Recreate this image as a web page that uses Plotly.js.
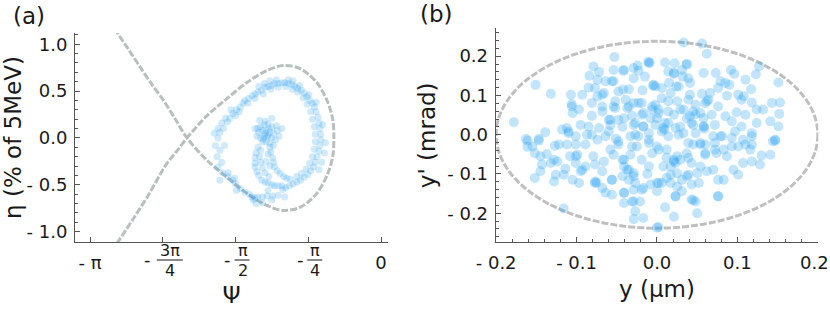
<!DOCTYPE html>
<html><head><meta charset="utf-8">
<script src="https://cdn.plot.ly/plotly-3.0.1.min.js"></script>
<style>html,body{margin:0;padding:0;background:#fff}#c{width:830px;height:309px}</style>
</head><body><div id="c"></div>
<script>
// ---- panel (a): separatrix
var sepPsi = [-2.88,-2.73,-2.60,-2.48,-2.35,-2.22,-2.095,-1.879,-1.664,-1.448,-1.232,-1.059,-0.876,-0.693,-0.574,-0.52,-0.509,-0.52,-0.574,-0.693,-0.876,-1.059,-1.232,-1.448,-1.664,-1.879,-2.095,-2.20,-2.311,-2.526,-2.68,-2.88];
var sepEta = [1.17,0.95,0.756,0.58,0.403,0.20,0.0,-0.238,-0.42,-0.591,-0.72,-0.773,-0.741,-0.591,-0.378,-0.19,0.0,0.19,0.378,0.591,0.741,0.773,0.72,0.591,0.42,0.238,0.0,-0.135,-0.27,-0.634,-0.87,-1.17];

// ---- panel (a): particles
var psiA = [-1.76,-1.76,-1.74,-1.72,-1.68,-1.63,-1.60,-1.56,-1.52,-1.49,-1.47,-1.43,-1.39,-1.36,-1.33,-1.29,-1.25,-1.22,-1.18,-1.15,-1.11,-1.07,-1.04,-1.00,-0.96,-0.93,-0.90,-0.86,-0.83,-0.80,-0.77,-0.74,-0.72,-0.70,-0.68,-0.67,-0.66,-0.65,-0.65,-0.66,-0.67,-0.69,-0.71,-0.73,-0.76,-0.79,-0.83,-0.87,-0.91,-0.95,
-1.70,-1.66,-1.57,-1.53,-1.44,-1.36,-1.27,-1.19,-1.11,-1.03,-0.96,-0.90,-0.84,-0.80,-0.76,-0.74,-0.72,-0.71,-0.71,-0.72,-0.74,-0.77,-0.81,-0.86,-0.91,
-1.32,-1.26,-1.13,-0.95,-0.88,-0.78,-0.70,-0.63,-0.60,-0.61,-0.64,-0.67,-1.20,-1.00,-1.62,-1.80,-1.79,
-0.99,-1.03,-1.06,-1.04,-1.11,-1.17,-1.23,-1.28,-1.33,-1.38,-1.42,-1.47,-1.52,-1.57,-1.60,-1.65,-1.71,-1.76,-1.77,-1.74,-1.56,-1.35,-1.18,-1.72,-1.65,-1.58,-1.39,-1.74,-1.69,-1.22,-1.36,-1.28,
-1.30,-1.26,-1.22,-1.18,-1.32,-1.28,-1.24,-1.20,-1.16,-1.12,-1.10,-1.30,-1.26,-1.22,-1.18,-1.14,-1.28,-1.24,-1.20,-1.16,-1.34,-1.25,-1.23,-1.21,-1.27,-1.13,-1.33,
-1.33,-1.35,-1.36,-1.36,-1.36,-1.34,-1.32,-1.29,-1.25,-1.22,-1.18,-1.15,-1.11,-1.07,
-1.30,-1.31,-1.30,-1.28,-1.25,-1.21,
-1.20,-1.19,-1.17,-1.16,-1.15,-1.12,-1.09,-1.05,-1.02,-0.98,
-1.22,-1.24,-1.20,-1.31,-1.18,-1.07,-1.25,-1.36];
var etaA = [0.00,0.10,0.06,0.16,0.21,0.21,0.26,0.30,0.33,0.37,0.40,0.42,0.45,0.47,0.49,0.51,0.54,0.55,0.56,0.58,0.58,0.59,0.59,0.58,0.57,0.55,0.53,0.51,0.48,0.44,0.40,0.37,0.33,0.28,0.22,0.16,0.10,0.04,-0.02,-0.08,-0.14,-0.20,-0.26,-0.31,-0.35,-0.39,-0.42,-0.45,-0.47,-0.49,
0.10,0.17,0.24,0.28,0.37,0.42,0.47,0.52,0.54,0.55,0.52,0.49,0.43,0.36,0.28,0.20,0.12,0.04,-0.04,-0.12,-0.20,-0.27,-0.33,-0.38,-0.41,
0.55,0.58,0.62,0.61,0.56,0.46,0.38,0.14,-0.05,-0.16,-0.26,-0.34,0.61,0.62,0.30,0.05,-0.08,
-0.51,-0.53,-0.55,-0.63,-0.61,-0.62,-0.62,-0.63,-0.63,-0.66,-0.60,-0.58,-0.54,-0.49,-0.45,-0.41,-0.37,-0.31,-0.20,-0.45,-0.56,-0.70,-0.66,-0.26,-0.37,-0.43,-0.63,-0.13,-0.08,-0.56,-0.64,-0.69,
0.12,0.14,0.15,0.12,0.06,0.08,0.08,0.06,0.05,0.08,0.02,0.00,0.02,0.03,0.00,-0.02,-0.04,-0.04,-0.06,-0.08,0.02,0.05,0.01,0.10,-0.01,0.13,0.10,
-0.10,-0.16,-0.21,-0.27,-0.31,-0.36,-0.40,-0.45,-0.47,-0.48,-0.50,-0.51,-0.51,-0.51,
-0.13,-0.20,-0.26,-0.32,-0.37,-0.41,
-0.10,-0.15,-0.21,-0.26,-0.31,-0.35,-0.38,-0.41,-0.43,-0.44,
-0.17,-0.25,-0.30,0.19,0.21,0.10,0.18,0.10];

// ---- panel (b): particles
var yB = [-0.053,-0.151,-0.132,-0.178,-0.009,-0.024,-0.042,-0.023,-0.084,-0.072,-0.029,-0.015,-0.064,-0.056,-0.085,-0.077,-0.048,-0.035,-0.018,-0.005,-0.107,-0.093,-0.068,-0.039,-0.029,-0.019,-0.106,-0.106,-0.081,-0.068,-0.054,-0.052,-0.037,-0.035,-0.006,0.002,-0.105,-0.081,-0.068,-0.060,-0.048,-0.031,-0.019,-0.008,-0.095,-0.085,-0.072,-0.058,-0.043,-0.027,-0.017,-0.002,-0.139,-0.118,-0.110,-0.163,-0.147,-0.101,-0.081,-0.064,-0.027,-0.010,-0.112,-0.097,-0.054,-0.029,-0.011,-0.074,-0.042,
0.033,0.056,0.062,0.010,0.022,0.037,0.014,0.021,0.031,0.039,0.032,0.073,0.092,0.096,0.110,0.123,0.127,0.151,-0.002,0.006,0.015,0.024,0.041,0.079,0.085,0.090,0.076,0.117,0.056,0.066,0.087,0.101,0.105,0.062,0.060,0.076,0.118,0.143,0.153,-0.002,0.006,0.014,0.025,0.039,0.048,0.002,0.014,0.029,0.037,0.045,0.058,0.068,0.085,0.099,0.110,0.132,0.152,0.124,0.141,0.010,0.023,0.043,0.058,0.059,0.072,0.093,0.105,0.006,0.009,0.033,0.079,0.097,0.118,0.147,0.151,0.124,0.108,0.048,
-0.161,-0.147,-0.161,-0.152,-0.137,-0.127,-0.122,-0.112,-0.101,-0.110,-0.087,-0.099,-0.101,-0.108,-0.143,-0.132,-0.124,-0.145,-0.152,-0.126,-0.114,-0.095,-0.093,-0.128,-0.116,-0.105,-0.097,-0.101,-0.089,-0.079,-0.077,-0.066,-0.068,-0.056,-0.077,-0.075,-0.068,-0.056,-0.064,-0.116,-0.054,-0.043,-0.033,-0.041,-0.035,-0.029,-0.043,-0.035,-0.027,-0.019,-0.029,-0.041,-0.008,0.002,-0.041,-0.031,-0.021,-0.027,-0.029,-0.017,0.000,-0.023,-0.010,-0.006,-0.031,-0.019,-0.010,-0.048,-0.089,-0.155,-0.145,-0.128,-0.051,-0.012,
0.014,0.027,0.048,0.070,0.081,0.093,0.107,0.118,0.118,0.110,0.093,0.101,0.147,0.039,0.054,0.060,0.072,0.074,0.002,0.012,0.021,0.023,0.025,0.039,0.043,0.060,0.087,0.107,0.118,0.130,0.141,0.128,0.095,0.101,0.008,0.017,0.025,0.039,0.050,0.062,0.006,0.017,0.031,0.043,0.052,0.076,0.083,0.000,0.023,0.031,0.043,0.045,0.048,0.076,0.010,0.021,0.050,0.002,0.116,0.144,
-0.004,0.017,0.027,0.041,0.064,-0.074,-0.066,-0.052,-0.023,-0.017,-0.006,0.000,0.008,0.014,0.021,0.033,0.041,0.054,0.058,0.045,0.029,-0.017,-0.029,-0.041,-0.058,-0.074,-0.060,-0.048,-0.033,-0.025,-0.010,0.000,0.012,0.021,0.017,0.029,0.037,0.045,0.054,0.060,0.054,0.070,0.072,0.083,-0.058,-0.041,-0.037,-0.029,-0.017,0.000,0.012,0.025,0.037,-0.077,-0.056,-0.041,-0.029,0.023,0.076,-0.079,-0.054,-0.041,-0.010,0.021,0.037,0.058];
var ypB = [0.198,0.127,0.104,0.032,0.184,0.176,0.163,0.163,0.150,0.160,0.144,0.148,0.136,0.136,0.120,0.119,0.110,0.116,0.113,0.125,0.102,0.102,0.102,0.089,0.081,0.081,0.078,0.072,0.081,0.072,0.072,0.068,0.068,0.072,0.072,0.064,0.055,0.048,0.059,0.038,0.038,0.048,0.051,0.042,0.025,0.021,0.017,0.025,0.020,0.030,0.021,0.025,0.006,0.013,0.008,-0.011,-0.011,-0.004,0.000,-0.004,0.000,0.004,0.017,0.064,0.165,0.170,0.186,0.140,0.115,
0.235,0.232,0.206,0.184,0.182,0.181,0.161,0.155,0.165,0.144,0.148,0.157,0.165,0.155,0.140,0.154,0.174,0.133,0.123,0.119,0.132,0.123,0.132,0.136,0.132,0.127,0.119,0.116,0.104,0.106,0.099,0.102,0.089,0.085,0.080,0.072,0.082,0.081,0.082,0.076,0.093,0.085,0.085,0.089,0.076,0.055,0.059,0.064,0.042,0.059,0.042,0.051,0.047,0.057,0.051,0.064,0.053,0.030,0.034,0.030,0.017,0.030,0.021,0.015,0.025,0.034,0.021,0.008,0.013,0.004,-0.004,0.008,0.004,-0.013,0.021,0.064,0.098,0.052,
-0.015,-0.015,-0.031,-0.047,-0.049,-0.028,-0.025,-0.025,-0.025,0.004,0.000,-0.051,-0.055,-0.055,-0.076,-0.072,-0.068,-0.093,-0.110,-0.102,-0.087,-0.093,-0.090,-0.119,-0.102,-0.115,-0.123,-0.072,-0.081,-0.055,-0.076,-0.068,-0.093,-0.115,-0.119,-0.122,-0.136,-0.153,-0.148,-0.188,-0.051,-0.064,-0.051,-0.081,-0.089,-0.098,-0.106,-0.115,-0.123,-0.140,-0.140,-0.148,-0.127,-0.123,-0.174,-0.170,-0.170,-0.195,-0.215,-0.212,-0.237,-0.004,-0.021,-0.047,-0.030,-0.064,-0.081,-0.025,-0.025,-0.030,-0.055,-0.064,-0.010,-0.100,
-0.004,0.000,0.004,-0.004,-0.004,-0.008,-0.013,-0.004,-0.025,-0.025,-0.030,-0.030,-0.015,-0.021,-0.025,-0.025,-0.038,-0.047,-0.038,-0.059,-0.068,-0.072,-0.055,-0.059,-0.072,-0.047,-0.055,-0.072,-0.068,-0.053,-0.051,-0.076,-0.089,-0.102,-0.081,-0.102,-0.098,-0.102,-0.098,-0.093,-0.123,-0.123,-0.115,-0.127,-0.123,-0.115,-0.115,-0.144,-0.157,-0.144,-0.165,-0.167,-0.170,-0.157,-0.185,-0.209,-0.200,-0.235,-0.038,-0.017,
0.127,0.106,0.123,0.102,0.089,0.097,0.106,0.085,0.081,0.055,0.064,0.042,0.017,0.030,0.051,0.064,0.047,0.055,0.021,0.025,0.021,0.021,0.025,0.042,0.038,-0.013,0.008,-0.017,-0.004,-0.030,-0.013,-0.030,-0.038,-0.064,-0.081,-0.064,-0.047,-0.025,-0.021,-0.051,-0.081,-0.089,-0.021,-0.038,-0.038,-0.064,-0.089,-0.106,-0.136,-0.123,-0.110,-0.132,-0.106,-0.123,-0.115,-0.148,-0.170,-0.157,-0.157,0.174,0.136,0.165,0.182,0.157,0.178,0.157];

// emittance ellipse bounds
var ellY = [-0.2, 0.2];
var ellYp = [-0.238, 0.238];

// tick labels
var tvA_x = [-Math.PI, -3*Math.PI/4, -Math.PI/2, -Math.PI/4, 0];
var ttA_x = ['- π', '', '', '', '0'];
var fracNum = ['3π', 'π', 'π'];
var fracDen = ['4', '2', '4'];
var tvA_y = [-1.0, -0.5, 0.0, 0.5, 1.0];
var ttA_y = ['- 1.0', '- 0.5', '0.0', '0.5', '1.0'];
var tvB = [-0.2, -0.1, 0.0, 0.1, 0.2];
var ttB = ['- 0.2', '- 0.1', '0.0', '0.1', '0.2'];
var ttB_x = ['- 0.2', '- 0.1', '0.0', '0.1', ''];   // last label placed as annotation so it stays inside the page

var FONT = 'DejaVu Sans, sans-serif';
var TXT = '#1a1a1a';
var axisCol = '#555555';
var sepCol = 'rgb(183,192,190)';
var dotCol = 'rgb(40,160,240)';

var traces = [
  {x: sepPsi, y: sepEta, xaxis: 'x', yaxis: 'y', type: 'scatter', mode: 'lines',
   line: {color: sepCol, width: 3, dash: '7px,2px', shape: 'spline', smoothing: 0.9}, hoverinfo: 'skip'},
  {x: psiA, y: etaA, xaxis: 'x', yaxis: 'y', type: 'scatter', mode: 'markers',
   marker: {color: dotCol, size: 7, opacity: 0.22, line: {width: 0}}},
  {x: yB, y: ypB, xaxis: 'x2', yaxis: 'y2', type: 'scatter', mode: 'markers',
   marker: {color: dotCol, size: 10, opacity: 0.28, line: {width: 0}}}
];

function ax(extra) {
  var base = {showline: true, linecolor: axisCol, linewidth: 1, ticks: 'inside', ticklen: 5,
    tickcolor: axisCol, tickwidth: 1, showgrid: false, zeroline: false, tickmode: 'array',
    tickfont: {family: FONT, size: 18, color: TXT}, fixedrange: true};
  for (var k in extra) base[k] = extra[k];
  return base;
}
var tfont = {family: FONT, size: 23, color: TXT};
var lfont = {family: FONT, size: 18, color: TXT};

// fraction tick labels for the phase axis (minus sign, numerator, bar, denominator)
var fracAnn = [], fracBars = [];
var minusShift = [-15, -8, -8];
var barL = [-0.065, -0.011, -0.011], barR = [0.216, 0.151, 0.151];
[1, 2, 3].forEach(function (ti, i) {
  var v = tvA_x[ti];
  fracAnn.push({x: v, xref: 'x', y: 0.1586, yref: 'paper', text: '-', showarrow: false,
    xanchor: 'center', yanchor: 'middle', xshift: minusShift[i], font: lfont});
  fracAnn.push({x: v, xref: 'x', y: 0.188, yref: 'paper', text: fracNum[i], showarrow: false,
    xanchor: 'center', yanchor: 'middle', xshift: 7, font: {family: FONT, size: 16, color: TXT}});
  fracAnn.push({x: v, xref: 'x', y: 0.123, yref: 'paper', text: fracDen[i], showarrow: false,
    xanchor: 'center', yanchor: 'middle', xshift: 7, font: {family: FONT, size: 16, color: TXT}});
  fracBars.push({type: 'line', xref: 'x', yref: 'paper', x0: v + barL[i], x1: v + barR[i],
    y0: 0.1586, y1: 0.1586, line: {color: TXT, width: 1}});
});

var layout = {
  width: 830, height: 309, margin: {l: 0, r: 0, t: 0, b: 0},
  paper_bgcolor: '#fff', plot_bgcolor: '#fff', showlegend: false,
  xaxis: ax({domain: [0.0904, 0.4675], range: [-3.3034, 0.0755], anchor: 'y',
    tickvals: tvA_x, ticktext: ttA_x, ticklabelstandoff: 4,
    title: {text: 'Ψ', font: tfont, standoff: 15}}),
  yaxis: ax({domain: [0.2168, 0.8932], range: [-1.11, 1.12], anchor: 'x',
    tickvals: tvA_y, ticktext: ttA_y, ticklabelstandoff: 3,
    minor: {ticks: 'inside', ticklen: 3, tickcolor: axisCol, dtick: 0.1, tick0: 0},
    title: {text: 'η (% of 5MeV)', font: tfont, standoff: 3}}),
  xaxis2: ax({domain: [0.5972, 0.9859], range: [-0.2006, 0.2006], anchor: 'y2',
    tickvals: tvB, ticktext: ttB_x, ticklabelstandoff: 4,
    minor: {ticks: 'inside', ticklen: 3, tickcolor: axisCol, dtick: 0.02, tick0: 0},
    title: {text: 'y (μm)', font: tfont, standoff: 9}}),
  yaxis2: ax({domain: [0.2159, 0.9084], range: [-0.274, 0.271], anchor: 'x2',
    tickvals: tvB, ticktext: ttB, ticklabelstandoff: 3,
    minor: {ticks: 'inside', ticklen: 3, tickcolor: axisCol, dtick: 0.02, tick0: 0},
    title: {text: "y' (mrad)", font: tfont, standoff: 5}}),
  shapes: [{type: 'circle', xref: 'x2', yref: 'y2', x0: ellY[0], x1: ellY[1], y0: ellYp[0], y1: ellYp[1],
    line: {color: 'rgb(190,192,190)', width: 3, dash: '7px,2px'}, layer: 'below'}].concat(fracBars),
  annotations: [
    {x: 0.035, y: 0.948, xref: 'paper', yref: 'paper', text: '(a)', showarrow: false,
     xanchor: 'center', yanchor: 'middle', font: tfont},
    {x: 0.5265, y: 0.955, xref: 'paper', yref: 'paper', text: '(b)', showarrow: false,
     xanchor: 'center', yanchor: 'middle', font: tfont},
    {x: tvB[4], xref: 'x2', y: 0.152, yref: 'paper', text: ttB[4], showarrow: false,
     xanchor: 'right', yanchor: 'middle', xshift: 13, font: lfont}
  ].concat(fracAnn)
};

Plotly.newPlot('c', traces, layout, {staticPlot: true, displayModeBar: false});
</script></body></html>
